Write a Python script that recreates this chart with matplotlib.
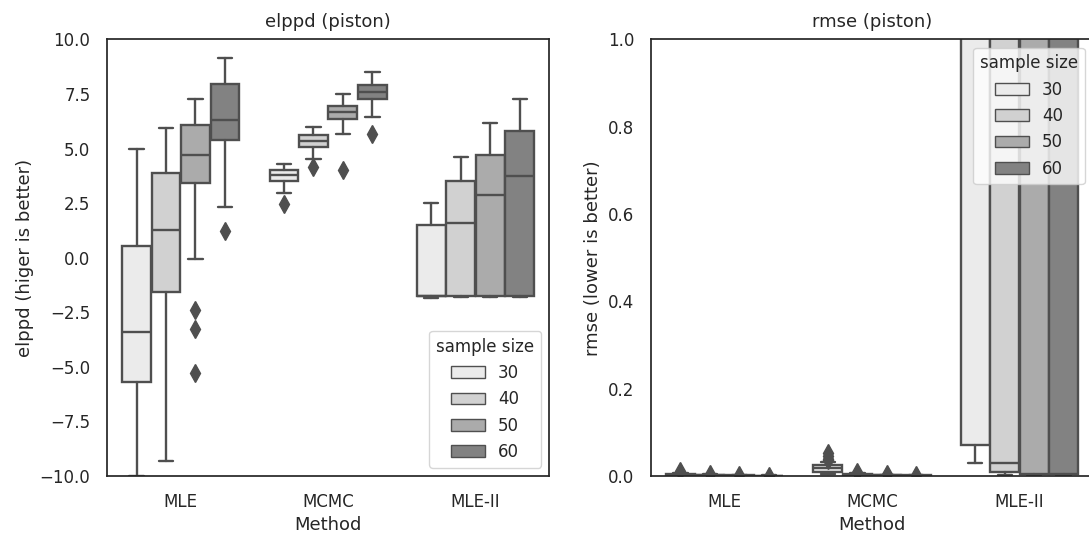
import numpy as np
import matplotlib
matplotlib.use("Agg")
import matplotlib.pyplot as plt
import seaborn as sns
from matplotlib.patches import Patch

sns.set_theme(style="white", context="notebook")
plt.rcParams.update({
    "xtick.labelsize": 12,
    "ytick.labelsize": 12,
    "axes.labelsize": 13,
    "axes.titlesize": 13,
    "axes.titlepad": 9,
    "xtick.major.pad": 12,
    "ytick.major.pad": 12,
    "xtick.major.size": 0,
    "ytick.major.size": 0,
})

methods = ["MLE", "MCMC", "MLE-II"]
sample_sizes = ["30", "40", "50", "60"]
colors = ["#ebebeb", "#d1d1d1", "#ababab", "#828282"]
line_color = "#4f4f4f"

# box stats per method, per sample size: (whislo, q1, med, q3, whishi)
elppd_stats = {
    "MLE": [(-9.98, -5.7, -3.41, 0.52, 4.98),
            (-9.31, -1.59, 1.28, 3.88, 5.92),
            (-0.08, 3.4, 4.7, 6.1, 7.29),
            (2.31, 5.37, 6.33, 7.97, 9.16)],
    "MCMC": [(2.97, 3.5, 3.78, 4.0, 4.31),
             (4.54, 5.06, 5.35, 5.61, 6.0),
             (5.67, 6.36, 6.67, 6.97, 7.52),
             (6.45, 7.28, 7.58, 7.92, 8.5)],
    "MLE-II": [(-1.85, -1.76, -1.76, 1.48, 2.51),
               (-1.8, -1.76, 1.59, 3.53, 4.62),
               (-1.8, -1.76, 2.89, 4.69, 6.15),
               (-1.8, -1.76, 3.73, 5.79, 7.25)],
}
elppd_fliers = {
    "MLE": [[], [], [-2.39, -3.26, -5.26], [1.21]],
    "MCMC": [[2.48], [4.14], [4.04], [5.67]],
    "MLE-II": [[], [], [], []],
}

rmse_stats = {
    "MLE": [(0.0005, 0.002, 0.003, 0.005, 0.008),
            (0.0003, 0.001, 0.0017, 0.0027, 0.004),
            (0.0002, 0.0006, 0.001, 0.0015, 0.0022),
            (0.0001, 0.0004, 0.0007, 0.001, 0.0015)],
    "MCMC": [(0.004, 0.01, 0.019, 0.025, 0.032),
             (0.0005, 0.002, 0.003, 0.005, 0.007),
             (0.0002, 0.001, 0.0015, 0.002, 0.003),
             (0.0001, 0.0005, 0.001, 0.0015, 0.002)],
    "MLE-II": [(0.03, 0.07, 1.5, 3.0, 5.0),
               (0.002, 0.01, 0.03, 3.0, 6.0),
               (0.0, 0.005, 1.6, 3.2, 6.5),
               (0.0, 0.005, 1.8, 3.4, 7.0)],
}
rmse_fliers = {
    "MLE": [[0.011], [0.005], [0.0025], [0.001]],
    "MCMC": [[0.052, 0.046, 0.04, 0.036], [0.009], [0.0035], [0.002]],
    "MLE-II": [[], [], [], []],
}

offsets = [-0.3, -0.1, 0.1, 0.3]


def draw_boxes(ax, stats, fliers):
    for i, m in enumerate(methods):
        for j in range(len(sample_sizes)):
            lo, q1, med, q3, hi = stats[m][j]
            st = [dict(whislo=lo, q1=q1, med=med, q3=q3, whishi=hi, fliers=fliers[m][j])]
            ax.bxp(st, positions=[i + offsets[j]], widths=0.195, patch_artist=True,
                   manage_ticks=False,
                   boxprops=dict(facecolor=colors[j], edgecolor=line_color, linewidth=1.7),
                   medianprops=dict(color=line_color, linewidth=1.7),
                   whiskerprops=dict(color=line_color, linewidth=1.7),
                   capprops=dict(color=line_color, linewidth=1.7),
                   flierprops=dict(marker="d", markerfacecolor=line_color,
                                   markeredgecolor=line_color, markersize=9))
    ax.set_xlim(-0.5, 2.5)
    ax.set_xticks(range(len(methods)))
    ax.set_xticklabels(methods)
    ax.set_xlabel("Method")


fig = plt.figure(figsize=(10.89, 5.37), dpi=100)
ax1 = fig.add_axes([0.0983, 0.1136, 0.406, 0.813])
ax2 = fig.add_axes([0.5978, 0.1136, 0.406, 0.813])

draw_boxes(ax1, elppd_stats, elppd_fliers)
ax1.set_ylim(-10, 10)
ax1.set_yticks(np.arange(-10, 10.1, 2.5))
ax1.set_ylabel("elppd (higer is better)")
ax1.set_title("elppd (piston)")

draw_boxes(ax2, rmse_stats, rmse_fliers)
ax2.set_ylim(0, 1)
ax2.set_ylabel("rmse (lower is better)")
ax2.set_title("rmse (piston)")

handles = [Patch(facecolor=c, edgecolor=line_color, linewidth=1.0) for c in colors]
ax1.legend(handles, sample_sizes, title="sample size", loc="lower right", fontsize=12, title_fontsize=12)
ax2.legend(handles, sample_sizes, title="sample size", loc="upper right", fontsize=12, title_fontsize=12)

fig.savefig("out.png", dpi=100)
